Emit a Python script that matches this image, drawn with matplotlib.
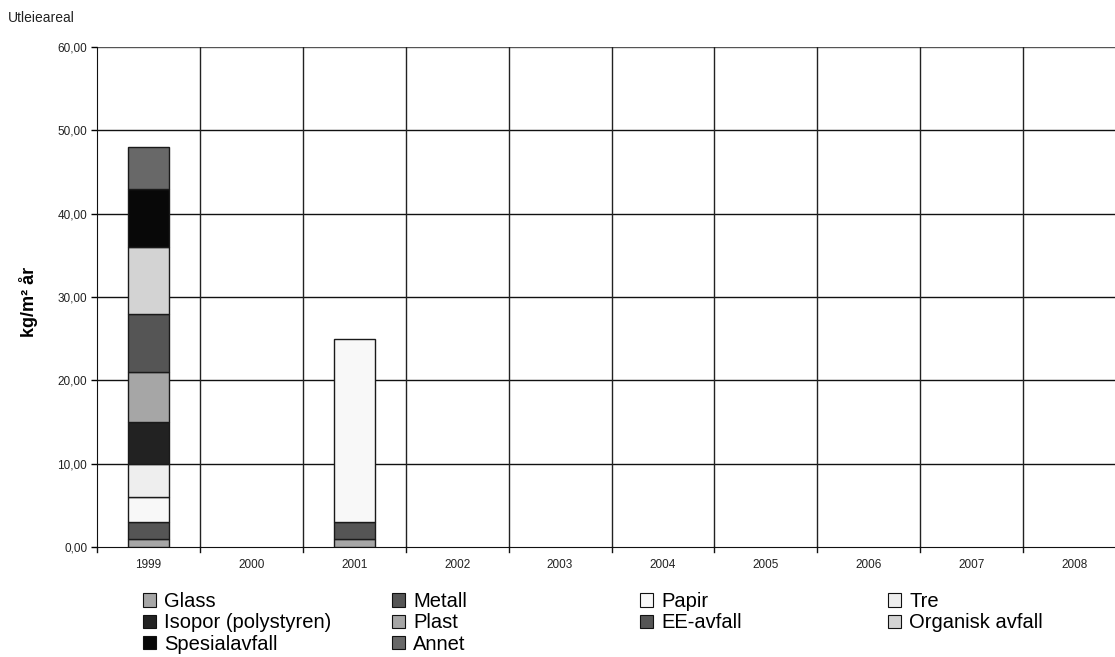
import matplotlib
matplotlib.use("Agg")
import matplotlib.pyplot as plt
import numpy as np
from matplotlib.patches import Patch

plt.rcParams['font.family'] = ['Liberation Sans', 'DejaVu Sans']

years = ["1999", "2000", "2001", "2002", "2003", "2004", "2005", "2006", "2007", "2008"]

# kg/m² per year, one list per waste fraction
glass    = [1, 0, 1, 0, 0, 0, 0, 0, 0, 0]
metall   = [2, 0, 2, 0, 0, 0, 0, 0, 0, 0]
papir    = [3, 0, 22, 0, 0, 0, 0, 0, 0, 0]
tre      = [4, 0, 0, 0, 0, 0, 0, 0, 0, 0]
isopor   = [5, 0, 0, 0, 0, 0, 0, 0, 0, 0]
plast    = [6, 0, 0, 0, 0, 0, 0, 0, 0, 0]
ee       = [7, 0, 0, 0, 0, 0, 0, 0, 0, 0]
organisk = [8, 0, 0, 0, 0, 0, 0, 0, 0, 0]
spesial  = [7, 0, 0, 0, 0, 0, 0, 0, 0, 0]
annet    = [5, 0, 0, 0, 0, 0, 0, 0, 0, 0]

fractions = ["Glass", "Metall", "Papir", "Tre", "Isopor (polystyren)", "Plast",
             "EE-avfall", "Organisk avfall", "Spesialavfall", "Annet"]
series = [glass, metall, papir, tre, isopor, plast, ee, organisk, spesial, annet]
colors = ["#a6a6a6", "#555555", "#f8f8f8", "#eeeeee", "#222222", "#a6a6a6",
          "#555555", "#d3d3d3", "#080808", "#686868"]

fig = plt.figure(figsize=(11.15, 6.57), dpi=100)
# plot area runs past the right edge of the figure
ax = fig.add_axes([97 / 1115, 1 - 547 / 657, 1029 / 1115, 500 / 657])

x = np.arange(len(years))
bottom = np.zeros(len(years))
for name, vals, c in zip(fractions, series, colors):
    vals = np.array(vals, dtype=float)
    mask = vals > 0
    ax.bar(x[mask], vals[mask], width=0.4, bottom=bottom[mask], color=c,
           edgecolor="#1a1a1a", linewidth=1.0, zorder=3)
    bottom += vals

ax.set_xlim(-0.5, len(years) - 0.5)
ax.set_ylim(0, 60)
ax.set_yticks(np.arange(0, 61, 10))
ax.set_yticklabels([f"{v:.2f}".replace(".", ",") for v in range(0, 61, 10)],
                   fontsize=8.5, color="#222222")
ax.set_xticks(x)
ax.set_xticklabels(years, fontsize=8.5, color="#222222")
ax.tick_params(axis="x", length=0, pad=9)
ax.tick_params(axis="y", length=4, width=1, direction="out", pad=3)

# grid: horizontal at major ticks, vertical between categories
for yv in range(10, 61, 10):
    ax.axhline(yv, color="#555555" if yv == 60 else "#111111", linewidth=1, zorder=1)
for xb in np.arange(0.5, len(years) - 0.5, 1):
    ax.axvline(xb, color="#222222", linewidth=1, zorder=1)
    ax.plot([xb, xb], [0, -0.55], color="#111111", linewidth=1, clip_on=False)
ax.plot([-0.5, -0.5], [0, -0.55], color="#111111", linewidth=1, clip_on=False)

for s in ["top", "right"]:
    ax.spines[s].set_visible(False)
ax.spines["left"].set_color("#111111")
ax.spines["bottom"].set_color("#111111")

ax.set_ylabel("kg/m² år", fontsize=13, fontweight="bold")
ax.yaxis.set_label_coords(-0.057, 0.49)
fig.text(8 / 1115, 1 - 18 / 657, "Utleieareal", fontsize=10, color="#222222",
         va="center", ha="left")

# legend laid out as four columns, filled row by row
ncol = 4
col_x = [143, 392, 640, 888]
for ci in range(ncol):
    idx = list(range(ci, len(fractions), ncol))
    handles = [Patch(facecolor=colors[i], edgecolor="#111111", linewidth=0.8)
               for i in idx]
    fig.legend(handles, [fractions[i] for i in idx],
               loc="upper left", bbox_to_anchor=(col_x[ci] / 1115, 1 - 592 / 657),
               frameon=False, fontsize=14.5, handlelength=0.65, handleheight=0.65,
               handletextpad=0.4, labelspacing=0.12, borderpad=0, borderaxespad=0)

fig.savefig("out.png", dpi=100)
